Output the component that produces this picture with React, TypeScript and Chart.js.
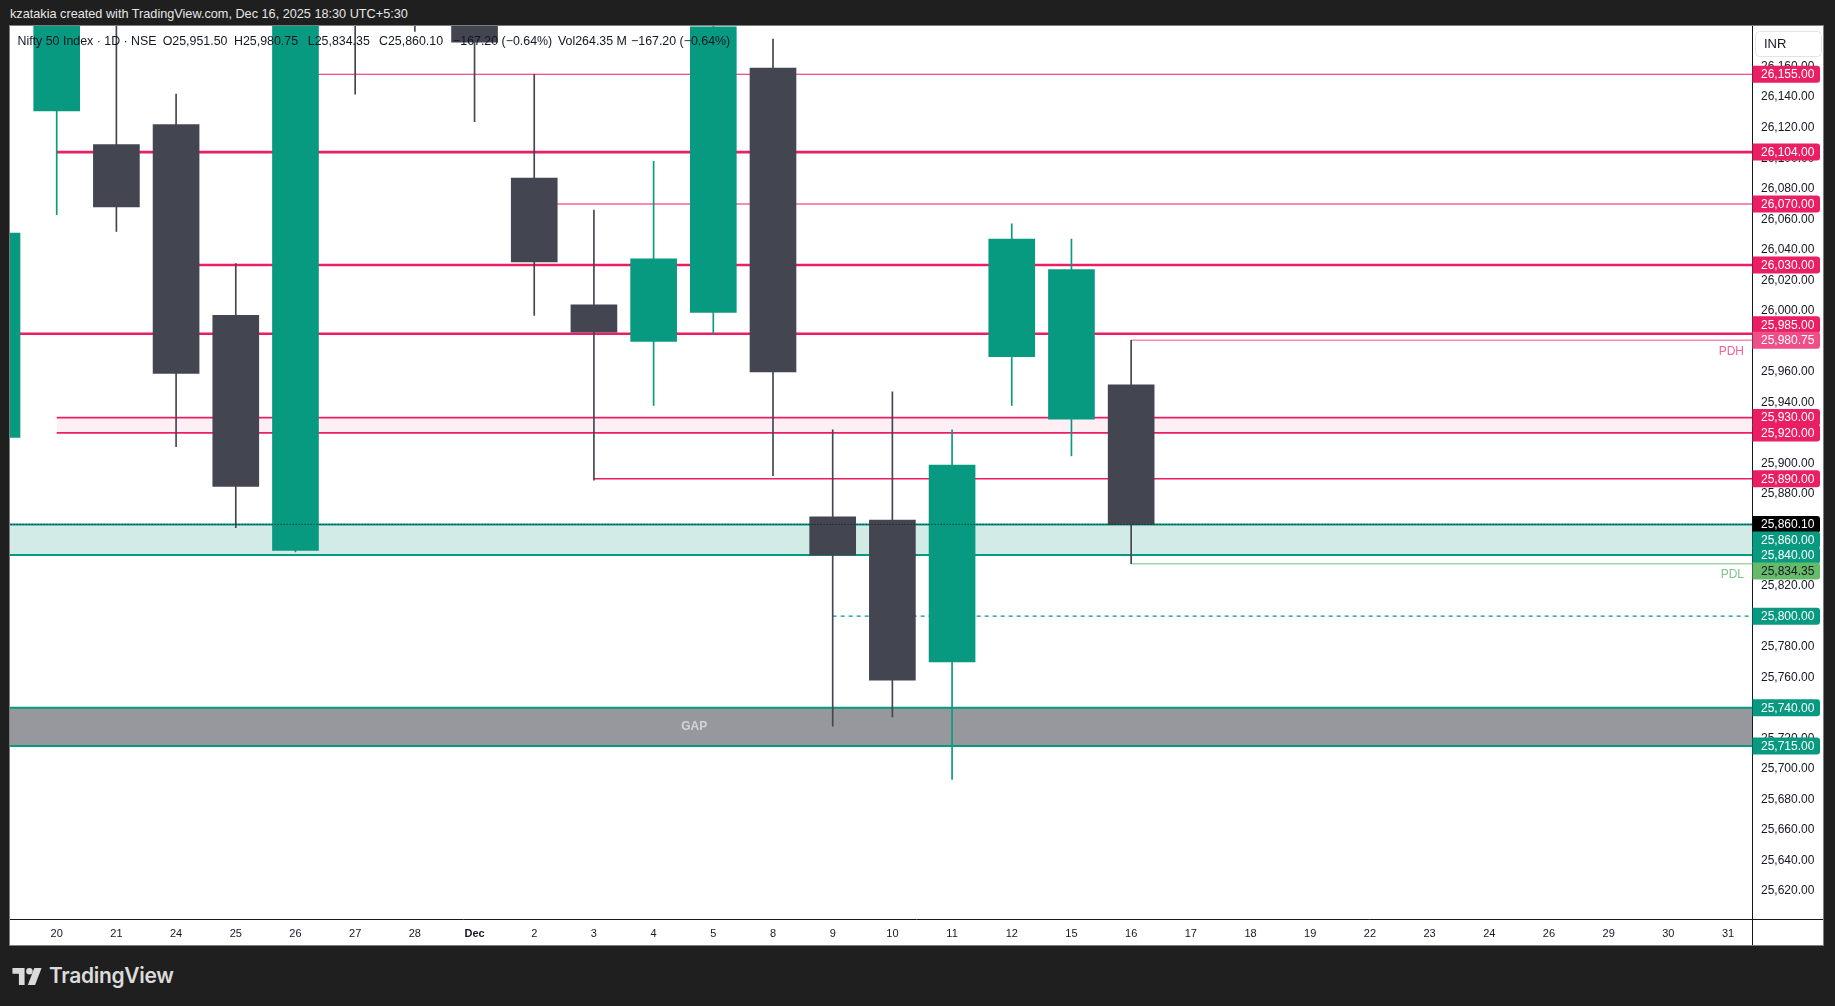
import React, { useEffect, useRef } from "react";
import { Chart, registerables } from "chart.js";

Chart.register(...registerables);

// ---------- DATA ----------
const xTickLabels = ["20", "21", "24", "25", "26", "27", "28", "Dec", "2", "3", "4", "5", "8", "9", "10", "11", "12", "15", "16", "17", "18", "19", "22", "23", "24", "26", "29", "30", "31"];

// bar index (0 = Nov 20), -1 = Nov 19 (partially visible)
const candleIndex = [-1, 0, 1, 2, 3, 4, 5, 6, 7, 8, 9, 10, 11, 12, 13, 14, 15, 16, 17, 18];
const candleOpen = [25917, 26131, 26109, 26122, 25997, 25843, 26261, 26268, 26326, 26087, 26004, 25980, 25999, 26159, 25865, 25863, 25770, 25970, 25929, 25951.5];
const candleHigh = [26074, 26246, 26200, 26142, 26031, 26215, 26310, 26280, 26326, 26155, 26066, 26098, 26203, 26178, 25922, 25947, 25922, 26057, 26047, 25980.75];
const candleLow = [25876, 26063, 26052, 25911, 25858, 25842, 26142, 26183, 26124, 25997, 25889, 25938, 25985, 25892, 25728, 25734, 25693, 25938, 25905, 25834.35];
const candleClose = [26051, 26192, 26068, 25959, 25885, 26205, 26216, 26203, 26176, 26032, 25986, 26034, 26186, 25960, 25840, 25758, 25899, 26047, 26027, 25860.1];

const pinkLevels = [26155, 26104, 26070, 26030, 25985, 25890];
const pinkLevelStart = [4, 0, 8, 2, -2, 9];
const thickPinkLevels = [26104, 26030, 25985];
const pinkZone = [25930, 25920];
const pinkZoneStart = 0;
const demandZone = [25860, 25840];
const gapZone = [25740, 25715];
const gapLabelIndex = 10.68;
const dashedSupport = 25800;
const dashedSupportStart = 13;
const prevDayHigh = 25980.75;
const prevDayLow = 25834.35;
const prevDayStart = 18;
const lastPrice = 25860.1;

const yTickValues = [25620, 25640, 25660, 25680, 25700, 25720, 25740, 25760, 25780, 25800, 25820, 25840, 25860, 25880, 25900, 25920, 25940, 25960, 25980, 26000, 26020, 26040, 26060, 26080, 26100, 26120, 26140, 26160];

const tagValues = [26155, 26104, 26070, 26030, 25985, 25980.75, 25930, 25920, 25890, 25860.1, 25860, 25840, 25834.35, 25800, 25740, 25715];
const tagKinds = ["pink", "pink", "pink", "pink", "pink", "pdh", "pink", "pink", "pink", "last", "teal", "teal", "pdl", "teal", "teal", "teal"];

const legendTexts = ["Nifty 50 Index · 1D · NSE", "O25,951.50", "H25,980.75", "L25,834.35", "C25,860.10", "−167.20 (−0.64%)", "Vol264.35 M", "−167.20 (−0.64%)"];

// ---------- STYLE ----------
const FONT = "'Liberation Sans', Arial, Helvetica, sans-serif";
const GREEN = "#089981";
const DARK = "#434651";
const PINK = "#e91e63";
const X_MIN = -0.7824;
const X_MAX = 28.401;
const Y_MIN = 25601.6;
const Y_MAX = 26186.6;

const fmt = (v: number) =>
  v.toLocaleString("en-US", { minimumFractionDigits: 2, maximumFractionDigits: 2 });

function hline(value: number, start: number, color: string, width: number, extra: any = {}) {
  return {
    type: "line",
    data: [
      { x: start, y: value },
      { x: X_MAX + 1, y: value },
    ],
    borderColor: color,
    borderWidth: width,
    pointRadius: 0,
    fill: false,
    tension: 0,
    order: 5,
    ...extra,
  };
}

const tagStyle: Record<string, { bg: string; fg: string }> = {
  pink: { bg: PINK, fg: "#ffffff" },
  pdh: { bg: "#ef4f88", fg: "#ffffff" },
  last: { bg: "#000000", fg: "#ffffff" },
  teal: { bg: GREEN, fg: "#ffffff" },
  pdl: { bg: "#66bb6a", fg: "#131722" },
};

const overlayPlugin = {
  id: "overlay",
  afterDraw(chart: any) {
    const { ctx, chartArea: ca, scales } = chart;
    const xs = scales.x;
    const ys = scales.y;
    ctx.save();

    // axis border lines
    ctx.strokeStyle = "#131722";
    ctx.lineWidth = 1;
    ctx.beginPath();
    const rx = Math.round(ca.right) + 0.5;
    ctx.moveTo(rx, 0);
    ctx.lineTo(rx, chart.height);
    const by = Math.round(ca.bottom) + 0.5;
    ctx.moveTo(0, by);
    ctx.lineTo(chart.width, by);
    ctx.stroke();

    // legend header
    const legendX = [7.5, 152.7, 224, 297.8, 369, 443, 548, 621];
    ctx.font = `12.4px ${FONT}`;
    ctx.fillStyle = "#131722";
    ctx.textBaseline = "middle";
    ctx.textAlign = "left";
    legendTexts.forEach((t, i) => ctx.fillText(t, legendX[i], 16));

    // PDH / PDL labels
    ctx.font = `12px ${FONT}`;
    ctx.textAlign = "right";
    ctx.fillStyle = "#f06292";
    ctx.fillText("PDH", ca.right - 8, ys.getPixelForValue(prevDayHigh) + 11);
    ctx.fillStyle = "#81c784";
    ctx.fillText("PDL", ca.right - 8, ys.getPixelForValue(prevDayLow) + 11);

    // GAP label
    ctx.font = `bold 12px ${FONT}`;
    ctx.textAlign = "center";
    ctx.fillStyle = "#d1d4dc";
    ctx.fillText("GAP", xs.getPixelForValue(gapLabelIndex), ys.getPixelForValue((gapZone[0] + gapZone[1]) / 2));

    // INR box
    ctx.fillStyle = "#ffffff";
    ctx.strokeStyle = "#e0e3eb";
    ctx.beginPath();
    (ctx as any).roundRect(ca.right + 3.5, 5.5, 66, 25, 4);
    ctx.fill();
    ctx.stroke();
    ctx.fillStyle = "#131722";
    ctx.font = `13px ${FONT}`;
    ctx.textAlign = "left";
    ctx.fillText("INR", ca.right + 12, 18);

    // price tags with overlap resolution
    const H = 15.5;
    const items = tagValues
      .map((v, i) => ({ v, kind: tagKinds[i], ideal: ys.getPixelForValue(v), anchor: ["last", "pdh", "pdl"].includes(tagKinds[i]) }))
      .sort((a, b) => a.ideal - b.ideal);
    let clusters: any[] = items.map((it) => ({ items: [it], top: 0 }));
    const place = (c: any) => {
      const ai = c.items.findIndex((it: any) => it.anchor);
      if (ai >= 0) c.top = c.items[ai].ideal - ai * H;
      else {
        const mean = c.items.reduce((s: number, it: any) => s + it.ideal, 0) / c.items.length;
        c.top = mean - ((c.items.length - 1) * H) / 2;
      }
    };
    let merged = true;
    while (merged) {
      merged = false;
      clusters.forEach(place);
      for (let i = 1; i < clusters.length; i++) {
        const a = clusters[i - 1];
        const b = clusters[i];
        if (a.top + a.items.length * H > b.top + 0.01) {
          a.items = a.items.concat(b.items);
          clusters.splice(i, 1);
          merged = true;
          break;
        }
      }
    }
    ctx.font = `12px ${FONT}`;
    ctx.textAlign = "left";
    ctx.textBaseline = "middle";
    clusters.forEach((c) => {
      c.items.forEach((it: any, k: number) => {
        const yc = c.top + k * H;
        const st = tagStyle[it.kind];
        ctx.fillStyle = st.bg;
        ctx.beginPath();
        (ctx as any).roundRect(ca.right + 0.5, yc - 8.5, 67.5, 17, [0, 3, 3, 0]);
        ctx.fill();
        ctx.fillStyle = st.fg;
        ctx.fillText(fmt(it.v), ca.right + 9, yc + 0.5);
      });
    });

    ctx.restore();
  },
};

function buildConfig(): any {
  const candleColors = candleOpen.map((o, i) => (candleClose[i] >= o ? GREEN : DARK));
  const datasets: any[] = [];

  // gap zone
  datasets.push(hline(gapZone[0], X_MIN - 2, GREEN, 2, { fill: "+1", backgroundColor: "#97989e", order: 8 }));
  datasets.push(hline(gapZone[1], X_MIN - 2, GREEN, 2, { order: 6.5 }));
  // demand zone
  datasets.push(hline(demandZone[0], X_MIN - 2, GREEN, 2, { fill: "+1", backgroundColor: "#d2ebe6", order: 8 }));
  datasets.push(hline(demandZone[1], X_MIN - 2, GREEN, 2, { order: 6.5 }));
  // pink zone
  datasets.push(hline(pinkZone[0], pinkZoneStart, PINK, 1.7, { fill: "+1", backgroundColor: "#fdeff4", order: 7 }));
  datasets.push(hline(pinkZone[1], pinkZoneStart, PINK, 1.7, { order: 6.5 }));
  // pink levels
  pinkLevels.forEach((v, i) => {
    const w = thickPinkLevels.includes(v) ? 2.6 : v === 25890 ? 1.6 : 1.1;
    datasets.push(hline(v, pinkLevelStart[i], PINK, w, { order: 6 }));
  });
  // previous day high / low
  datasets.push(hline(prevDayHigh, prevDayStart, "#f48fb1", 1.5, { order: 6 }));
  datasets.push(hline(prevDayLow, prevDayStart, "#a5d6a7", 1.5, { order: 6 }));
  // dashed support
  datasets.push(hline(dashedSupport, dashedSupportStart, GREEN, 1.4, { borderDash: [4, 4], order: 6 }));
  // last price line
  datasets.push(hline(lastPrice, X_MIN - 2, "#131722", 1, { borderDash: [1, 2], order: 0 }));

  // wicks
  datasets.push({
    type: "bar",
    data: candleIndex.map((x, i) => ({ x, y: [candleLow[i], candleHigh[i]] })),
    backgroundColor: candleColors,
    barThickness: 1,
    grouped: false,
    order: 2,
  });
  // bodies
  datasets.push({
    type: "bar",
    data: candleIndex.map((x, i) => ({ x, y: [candleOpen[i], candleClose[i]] })),
    backgroundColor: candleColors,
    barThickness: 46,
    grouped: false,
    order: 1,
  });

  return {
    type: "bar",
    data: { datasets },
    plugins: [overlayPlugin],
    options: {
      animation: false,
      responsive: false,
      maintainAspectRatio: false,
      events: [],
      layout: { padding: 0 },
      plugins: {
        legend: { display: false },
        tooltip: { enabled: false },
        title: { display: false },
      },
      scales: {
        x: {
          type: "linear",
          min: X_MIN,
          max: X_MAX,
          offset: false,
          grid: { display: false, drawTicks: false, offset: false },
          border: { display: false },
          afterBuildTicks: (s: any) => {
            s.ticks = xTickLabels.map((_, i) => ({ value: i }));
          },
          afterFit: (s: any) => {
            s.height = 26;
            s.paddingLeft = 0;
            s.paddingRight = 0;
          },
          ticks: {
            autoSkip: false,
            maxRotation: 0,
            minRotation: 0,
            padding: 8,
            color: "#131722",
            font: (c: any) => ({
              family: FONT,
              size: 11,
              weight: c.tick && xTickLabels[c.tick.value] === "Dec" ? "bold" : "normal",
            }),
            callback: (v: any) => xTickLabels[v] ?? "",
          },
        },
        y: {
          type: "linear",
          position: "right",
          min: Y_MIN,
          max: Y_MAX,
          grid: { display: false, drawTicks: false },
          border: { display: false },
          afterBuildTicks: (s: any) => {
            s.ticks = yTickValues.map((v) => ({ value: v }));
          },
          afterFit: (s: any) => {
            s.width = 71;
            s.paddingTop = 0;
            s.paddingBottom = 0;
          },
          ticks: {
            padding: 9,
            color: "#131722",
            font: { family: FONT, size: 12 },
            callback: (v: any) => fmt(Number(v)),
          },
        },
      },
    },
  };
}

export default function App() {
  const ref = useRef<HTMLCanvasElement>(null);
  useEffect(() => {
    if (!ref.current) return;
    const chart = new Chart(ref.current, buildConfig());
    return () => chart.destroy();
  }, []);

  return (
    <div
      style={{
        position: "fixed",
        left: 0,
        top: 0,
        width: 1835,
        height: 1006,
        background: "#1f1f1f",
        overflow: "hidden",
      }}
    >
      <div
        style={{
          position: "absolute",
          left: 10,
          top: 5,
          color: "#e6e6e6",
          font: `12.7px ${FONT}`,
          lineHeight: "18px",
          whiteSpace: "nowrap",
        }}
      >
        kzatakia created with TradingView.com, Dec 16, 2025 18:30 UTC+5:30
      </div>
      <div
        style={{
          position: "absolute",
          left: 9,
          top: 25,
          width: 1813,
          height: 919,
          border: "1px solid #7d7d7d",
          background: "#ffffff",
        }}
      >
        <canvas ref={ref} width={1813} height={919} style={{ display: "block", width: 1813, height: 919 }} />
      </div>
      <div
        style={{
          position: "absolute",
          left: 12,
          top: 963,
          display: "flex",
          alignItems: "center",
          gap: 7,
          color: "#dbdbdb",
        }}
      >
        <svg width="30" height="17" viewBox="0 0 36 21" fill="#dbdbdb">
          <path d="M0 0h15v21H8V7H0z" />
          <circle cx="21" cy="4" r="4" />
          <path d="M27 0h9l-8 21h-9z" />
        </svg>
        <span style={{ font: `600 21px Inter, ${FONT}`, letterSpacing: "-0.3px", lineHeight: "26px" }}>TradingView</span>
      </div>
    </div>
  );
}
